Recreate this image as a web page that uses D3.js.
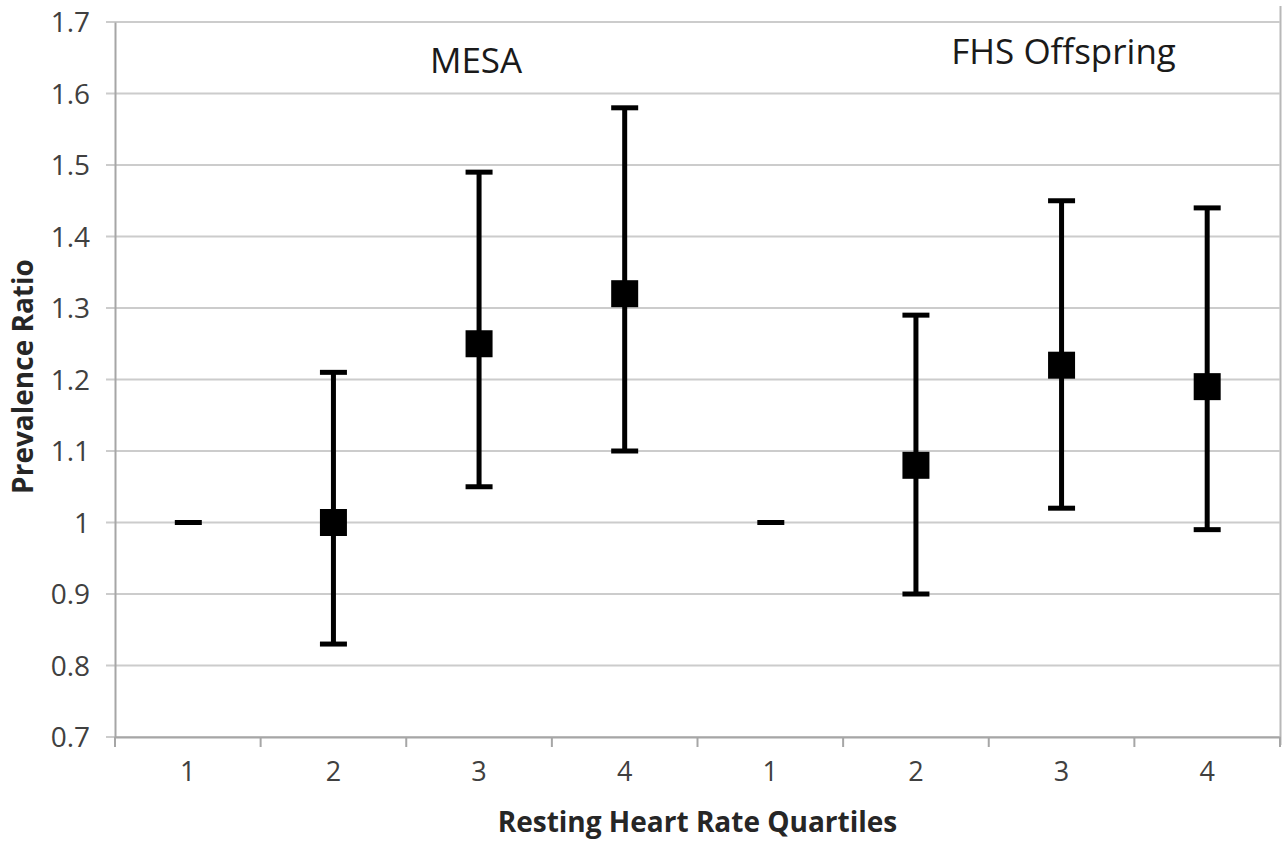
<!DOCTYPE html>
<html>
<head>
<meta charset="utf-8">
<script src="https://cdn.jsdelivr.net/npm/d3@7"></script>
<style>
	body { margin: 0; background: #fff; }
	text { font-family: "Open Sans", sans-serif; }
</style>
</head>
<body>
<div id="chart"></div>
<script>
// categories: two cohorts, four quartiles each
const groups = ['MESA', 'FHS Offspring'];
const quartiles = ['1', '2', '3', '4'];
const categories = ['MESA-1', 'MESA-2', 'MESA-3', 'MESA-4', 'FHS-1', 'FHS-2', 'FHS-3', 'FHS-4'];

// prevalence ratio with 95% CI (quartile 1 = reference)
const ratio = [1.00, 1.00, 1.25, 1.32, 1.00, 1.08, 1.22, 1.19];
const lower = [null, 0.83, 1.05, 1.10, null, 0.90, 1.02, 0.99];
const upper = [null, 1.21, 1.49, 1.58, null, 1.29, 1.45, 1.44];

const yTicks = [0.7, 0.8, 0.9, 1.0, 1.1, 1.2, 1.3, 1.4, 1.5, 1.6, 1.7];

const width = 1288, height = 844;
const margin = {top: 22, right: 8, bottom: 107, left: 115};

const svg = d3.select('#chart').append('svg')
	.attr('width', width)
	.attr('height', height);

const xScale = d3.scaleBand()
	.domain(categories)
	.range([margin.left, width - margin.right]);

const yScale = d3.scaleLinear()
	.domain([0.7, 1.7])
	.range([height - margin.bottom, margin.top]);

const x0 = margin.left, x1 = width - margin.right;
const yBase = yScale(0.7);

// outer frame line on the right
svg.append('line')
	.attr('x1', x1 + 0.5).attr('x2', x1 + 0.5)
	.attr('y1', 6).attr('y2', yBase + 8)
	.attr('stroke', '#b8b8b8').attr('stroke-width', 2);

//gridlines
svg.append('g').attr('class', 'grid')
	.selectAll('line').data(yTicks).enter().append('line')
	.attr('x1', x0 - 9).attr('x2', x1)
	.attr('y1', d => yScale(d)).attr('y2', d => yScale(d))
	.attr('stroke', '#cccccc').attr('stroke-width', 2);

//y axis
const yAxis = svg.append('g')
	.attr('transform', `translate(${x0},0)`)
	.call(d3.axisLeft(yScale).tickValues(yTicks).tickSize(0).tickPadding(25)
		.tickFormat(d => d === 1 ? '1' : d3.format('.1f')(d)));
yAxis.select('.domain').attr('stroke', '#a6a6a6').attr('stroke-width', 2);
yAxis.selectAll('text').attr('font-size', 28).attr('fill', '#404040')
	.attr('font-family', '"Open Sans", sans-serif').attr('dy', '0.34em');

//x axis with ticks at category boundaries
const xAxis = svg.append('g')
	.attr('transform', `translate(0,${yBase})`)
	.call(d3.axisBottom(xScale).tickSize(0).tickPadding(25)
		.tickFormat(d => d.split('-')[1]));
xAxis.select('.domain').attr('stroke', '#a6a6a6').attr('stroke-width', 2);
xAxis.selectAll('text').attr('font-size', 27).attr('fill', '#404040')
	.attr('font-family', '"Open Sans", sans-serif').attr('dy', '0.72em');

const bounds = categories.map(c => xScale(c)).concat([x1]);
xAxis.selectAll('.bound').data(bounds).enter().append('line')
	.attr('class', 'bound')
	.attr('x1', d => d).attr('x2', d => d)
	.attr('y1', 0).attr('y2', 10)
	.attr('stroke', '#a6a6a6').attr('stroke-width', 2);

const cx = c => xScale(c) + xScale.bandwidth() / 2;
const data = categories.map((c, i) => ({c: c, r: ratio[i], lo: lower[i], hi: upper[i]}));
const capW = 27, box = 27;

const g = svg.append('g');

// reference dashes
g.selectAll('.ref').data(data.filter(d => d.lo === null)).enter().append('line')
	.attr('class', 'ref')
	.attr('x1', d => cx(d.c) - 13).attr('x2', d => cx(d.c) + 14)
	.attr('y1', d => yScale(d.r)).attr('y2', d => yScale(d.r))
	.attr('stroke', '#000').attr('stroke-width', 5);

const ci = data.filter(d => d.lo !== null);

// whiskers
g.selectAll('.whisker').data(ci).enter().append('line')
	.attr('class', 'whisker')
	.attr('x1', d => cx(d.c)).attr('x2', d => cx(d.c))
	.attr('y1', d => yScale(d.lo)).attr('y2', d => yScale(d.hi))
	.attr('stroke', '#000').attr('stroke-width', 5);

['lo', 'hi'].forEach(k => {
	g.selectAll('.cap-' + k).data(ci).enter().append('line')
		.attr('class', 'cap-' + k)
		.attr('x1', d => cx(d.c) - capW / 2).attr('x2', d => cx(d.c) + capW / 2)
		.attr('y1', d => yScale(d[k])).attr('y2', d => yScale(d[k]))
		.attr('stroke', '#000').attr('stroke-width', 5);
});

// square markers
g.selectAll('.pt').data(ci).enter().append('rect')
	.attr('class', 'pt')
	.attr('x', d => cx(d.c) - box / 2)
	.attr('y', d => yScale(d.r) - box / 2)
	.attr('width', box).attr('height', box)
	.attr('fill', '#000');

// group titles
const titlePos = [{x: cx('MESA-3') - 3, y: 73}, {x: cx('FHS-3') + 2, y: 64}];
svg.selectAll('.gtitle').data(groups).enter().append('text')
	.attr('class', 'gtitle')
	.attr('x', (d, i) => titlePos[i].x)
	.attr('y', (d, i) => titlePos[i].y)
	.attr('text-anchor', 'middle')
	.attr('font-size', 35)
	.attr('fill', '#1a1a1a')
	.text(d => d);

// axis titles
svg.append('text')
	.attr('x', (x0 + x1) / 2 - 0)
	.attr('y', 832)
	.attr('text-anchor', 'middle')
	.attr('font-size', 28)
	.attr('font-weight', 'bold')
	.attr('fill', '#262626')
	.text('Resting Heart Rate Quartiles');

svg.append('text')
	.attr('transform', `translate(33,${(margin.top + yBase) / 2 - 3}) rotate(-90)`)
	.attr('text-anchor', 'middle')
	.attr('font-size', 28)
	.attr('font-weight', 'bold')
	.attr('fill', '#262626')
	.text('Prevalence Ratio');
</script>
</body>
</html>
